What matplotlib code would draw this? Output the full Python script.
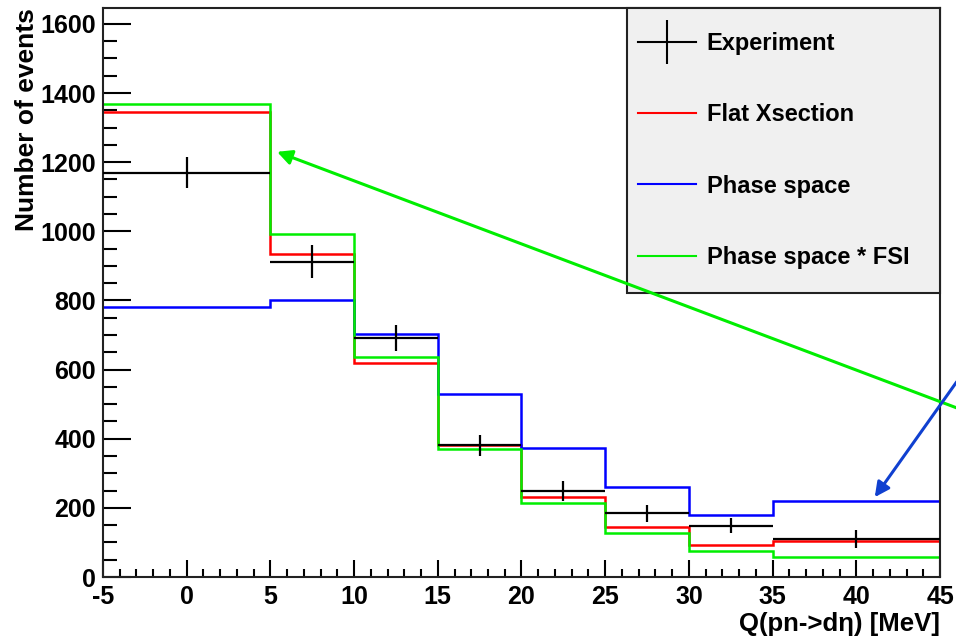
"""Q(pn->d eta) distribution: experiment vs simulation histograms (ROOT style)."""

import numpy as np
import matplotlib
matplotlib.use("Agg")
import matplotlib.pyplot as plt
from matplotlib.lines import Line2D
from matplotlib.patches import Rectangle
from matplotlib.ticker import MultipleLocator

# bin edges in MeV
bin_edges = [-5, 5, 10, 15, 20, 25, 30, 35, 45]

exp_counts = [1170, 912, 692, 381, 248, 184, 149, 110]
exp_errors = [46, 48, 37, 31, 29, 24, 23, 26]

flat_xsection = [1345, 935, 618, 382, 231, 145, 93, 105]
phase_space = [780, 802, 703, 530, 372, 261, 179, 220]
phase_space_fsi = [1367, 992, 635, 370, 215, 128, 75, 58]

labels = ["Experiment", "Flat Xsection", "Phase space", "Phase space * FSI"]

plt.rcParams["font.family"] = ["Liberation Sans", "DejaVu Sans"]
plt.rcParams["font.weight"] = "bold"
plt.rcParams["axes.unicode_minus"] = False

GREEN = "#00ee00"
RED = "#ff0000"
BLUE = "#0000ff"


def main():
    fig = plt.figure(figsize=(9.56, 6.39), dpi=100)
    ax = fig.add_axes([0.1077, 0.097, 0.8756, 0.8905])

    edges = np.array(bin_edges, dtype=float)
    centers = 0.5 * (edges[:-1] + edges[1:])
    half = 0.5 * np.diff(edges)

    ax.errorbar(centers, exp_counts, xerr=half, yerr=exp_errors, fmt="none",
                ecolor="black", elinewidth=1.6, capsize=0, zorder=3)
    ax.stairs(flat_xsection, edges, baseline=None, color=RED, lw=1.8, zorder=2)
    ax.stairs(phase_space, edges, baseline=None, color=BLUE, lw=1.8, zorder=2)
    ax.stairs(phase_space_fsi, edges, baseline=None, color=GREEN, lw=1.8, zorder=2)

    ax.set_xlim(-5, 45)
    ax.set_ylim(0, 1646)
    ax.xaxis.set_major_locator(MultipleLocator(5))
    ax.xaxis.set_minor_locator(MultipleLocator(1))
    ax.yaxis.set_major_locator(MultipleLocator(200))
    ax.yaxis.set_minor_locator(MultipleLocator(50))
    ax.tick_params(axis="x", which="major", direction="in", length=12, width=1.5,
                   labelsize=18, pad=6, top=False)
    ax.tick_params(axis="x", which="minor", direction="in", length=6, width=1.5, top=False)
    ax.tick_params(axis="y", which="major", direction="in", length=20, width=1.5,
                   labelsize=18, pad=5, right=False)
    ax.tick_params(axis="y", which="minor", direction="in", length=10, width=1.5, right=False)
    for lab in ax.get_xticklabels() + ax.get_yticklabels():
        lab.set_fontweight("bold")
    for sp in ax.spines.values():
        sp.set_linewidth(1.5)
        sp.set_color("#222222")

    ax.set_ylabel("Number of events", fontsize=19, fontweight="bold", loc="top", labelpad=1)
    ax.set_xlabel("Q(pn->d\u03b7) [MeV]", fontsize=18.5, fontweight="bold", loc="right", labelpad=2)

    # ROOT-style legend pad: grey box, entries placed inside it
    ax.add_patch(Rectangle((0.626, 0.499), 0.374, 0.501, transform=ax.transAxes,
                           facecolor="#f0f0f0", edgecolor="#222222", lw=1.5, zorder=4,
                           clip_on=False))
    handles = [
        Line2D([], [], color="black", lw=1.5, marker="|", markersize=31, markeredgewidth=1.5),
        Line2D([], [], color=RED, lw=1.5),
        Line2D([], [], color=BLUE, lw=1.5),
        Line2D([], [], color=GREEN, lw=1.5),
    ]
    leg = ax.legend(handles, labels, loc="upper left", bbox_to_anchor=(0.639, 0.958),
                    prop={"weight": "bold", "size": 17}, frameon=False,
                    borderaxespad=0, borderpad=0, labelspacing=2.05,
                    handlelength=2.45, handletextpad=0.47, numpoints=1)
    leg.set_zorder(5)

    # annotation arrows coming in from beyond the right edge
    ax.annotate("", xy=(5.4, 1230), xytext=(46.5, 480), annotation_clip=False,
                arrowprops=dict(arrowstyle="-|>", color=GREEN, lw=2.2, mutation_scale=22,
                                shrinkA=0, shrinkB=0), zorder=6)
    ax.annotate("", xy=(41.1, 231), xytext=(46.0, 565), annotation_clip=False,
                arrowprops=dict(arrowstyle="-|>", color="#1040d0", lw=2.2, mutation_scale=22,
                                shrinkA=0, shrinkB=0), zorder=6)

    fig.savefig("out.png", dpi=100)
    plt.close(fig)


if __name__ == "__main__":
    main()
